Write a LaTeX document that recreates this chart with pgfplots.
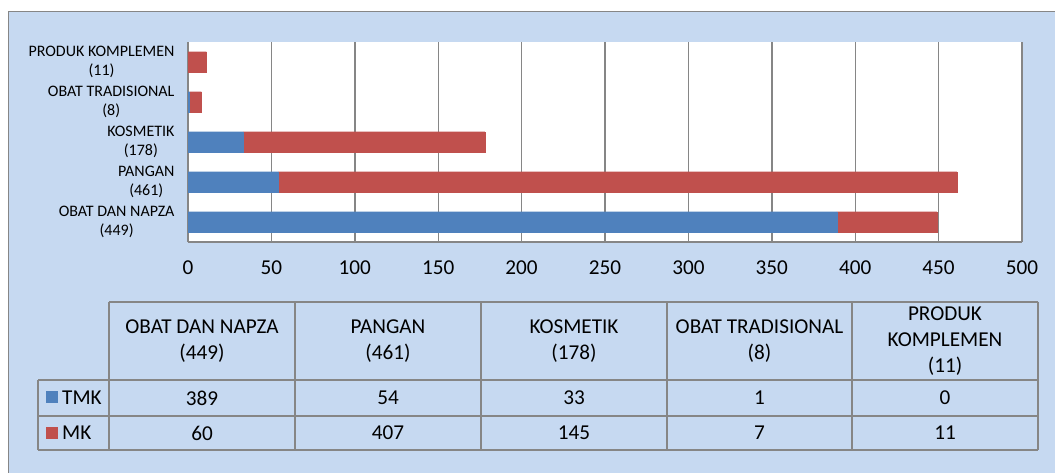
\documentclass[border=0pt]{standalone}
\usepackage{fontspec}
\setmainfont{Carlito}
\usepackage{pgfplots}
\pgfplotsset{compat=1.18}
\definecolor{bgblue}{RGB}{198,217,241}
\definecolor{tmk}{RGB}{79,129,189}
\definecolor{mk}{RGB}{192,80,77}
\definecolor{frame}{RGB}{134,134,134}
\newcommand{\tf}{\fontsize{21.2}{26}\selectfont}
\begin{document}
\begin{tikzpicture}[x=1pt,y=1pt]
\useasboundingbox (0,0) rectangle (1055,473);
\fill[white] (0,0) rectangle (1055,473);
\draw[frame, fill=bgblue, line width=1pt] (8,-10) -- (8,461) -- (1065,461);
\fill[bgblue] (8.5,-10) rectangle (1065,460.5);

\begin{axis}[
    at={(188pt,231pt)}, anchor=south west,
    scale only axis,
    width=834pt, height=200pt,
    xbar stacked,
    bar width=20.5pt,
    xmin=0, xmax=500,
    xtick={0,50,...,500},
    ymin=-0.5, ymax=4.5,
    ytick={0,1,2,3,4},
    yticklabels={{OBAT DAN NAPZA\\(449)},{PANGAN\\(461)},{KOSMETIK\\(178)},{OBAT TRADISIONAL\\(8)},{PRODUK KOMPLEMEN\\(11)}},
    axis lines*=left,
    axis line style={-, frame, line width=1.6pt},
    xmajorgrids,
    major grid style={frame, line width=1.4pt},
    major tick length=0pt,
    axis background/.style={fill=white},
    /pgf/number format/assume math mode=true,
    xticklabel style={font=\tf, yshift=-15pt},
    yticklabel style={font=\fontsize{16}{19}\selectfont, align=center, xshift=-10pt},
]
\addplot[fill=tmk, draw=tmk] coordinates {(389,0) (54,1) (33,2) (1,3) (0,4)};
\addplot[fill=mk, draw=mk] coordinates {(60,0) (407,1) (145,2) (7,3) (11,4)};
\end{axis}

% data table (py -> 473-py)
\begin{scope}[frame, line width=1.4pt]
\draw (109,171) -- (109,23);
\draw (295,171) -- (295,23);
\draw (481,171) -- (481,23);
\draw (667,171) -- (667,23);
\draw (852,171) -- (852,23);
\draw (1038,171) -- (1038,23);
\draw (109,171) -- (1038,171);
\draw (38,93) -- (1038,93);
\draw (38,57) -- (1038,57);
\draw (38,23) -- (1038,23);
\draw (38,93) -- (38,23);
\end{scope}
\begin{scope}[every node/.style={font=\tf, align=center, inner sep=0pt}]
\node at (202,132) {OBAT DAN NAPZA\\(449)};
\node at (388,132) {PANGAN\\(461)};
\node at (574,132) {KOSMETIK\\(178)};
\node at (759.5,132) {OBAT TRADISIONAL\\(8)};
\node at (945,132) {PRODUK\\KOMPLEMEN\\(11)};
\node at (202,75) {389};
\node at (388,75) {54};
\node at (574,75) {33};
\node at (759.5,75) {1};
\node at (945,75) {0};
\node at (202,40) {60};
\node at (388,40) {407};
\node at (574,40) {145};
\node at (759.5,40) {7};
\node at (945,40) {11};
\node[anchor=west] at (62,75) {TMK};
\node[anchor=west] at (62,40) {MK};
\end{scope}
\fill[tmk] (46,69.5) rectangle (58,81.5);
\fill[mk] (46,34) rectangle (58,46);
\end{tikzpicture}
\end{document}
